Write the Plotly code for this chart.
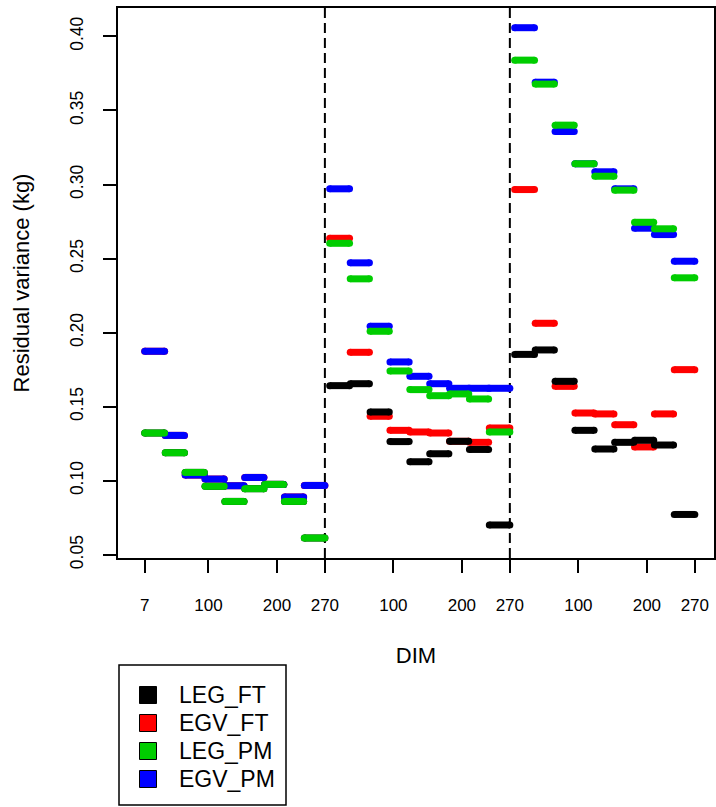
import plotly.graph_objects as go

# ---- data ----
DIM_START = [7, 37, 66, 95, 124, 153, 182, 211, 240]
DIM_END = [36, 65, 94, 123, 152, 181, 210, 239, 270]
PANEL_OFFSET = [0, 270, 540]

TICK_VALS = [7, 100, 200, 270, 370, 470, 540, 640, 740, 810]
TICK_TEXT = ["7", "100", "200", "270", "100", "200", "270", "100", "200", "270"]
Y_TICKS = [0.05, 0.10, 0.15, 0.20, 0.25, 0.30, 0.35, 0.40]

LEG_FT = [0.1322, 0.1189, 0.1056, 0.0962, 0.0860, 0.0946, 0.0975, 0.0860, 0.0613,
          0.1642, 0.1655, 0.1464, 0.1264, 0.1128, 0.1182, 0.1266, 0.1211, 0.0701,
          0.1853, 0.1883, 0.1671, 0.1340, 0.1214, 0.1259, 0.1273, 0.1241, 0.0772]
EGV_FT = [0.1874, 0.1306, 0.1038, 0.1011, 0.0966, 0.1022, 0.0975, 0.0890, 0.0968,
          0.2637, 0.1867, 0.1435, 0.1340, 0.1329, 0.1322, 0.1266, 0.1259, 0.1356,
          0.2966, 0.2063, 0.1637, 0.1457, 0.1451, 0.1378, 0.1228, 0.1451, 0.1750]
LEG_PM = [0.1322, 0.1189, 0.1056, 0.0962, 0.0860, 0.0946, 0.0975, 0.0860, 0.0613,
          0.2603, 0.2363, 0.2009, 0.1741, 0.1615, 0.1574, 0.1586, 0.1552, 0.1329,
          0.3840, 0.3678, 0.3401, 0.3140, 0.3056, 0.2962, 0.2745, 0.2701, 0.2370]
EGV_PM = [0.1874, 0.1306, 0.1038, 0.1011, 0.0966, 0.1022, 0.0975, 0.0890, 0.0968,
          0.2971, 0.2471, 0.2043, 0.1802, 0.1705, 0.1655, 0.1624, 0.1624, 0.1624,
          0.4059, 0.3691, 0.3358, 0.3140, 0.3086, 0.2971, 0.2705, 0.2662, 0.2482]

SERIES = {"LEG_FT": LEG_FT, "EGV_FT": EGV_FT, "LEG_PM": LEG_PM, "EGV_PM": EGV_PM}
COLORS = {"LEG_FT": "#000000", "EGV_FT": "#FF0000", "LEG_PM": "#00CD00", "EGV_PM": "#0000FF"}
DRAW_ORDER = ["EGV_FT", "LEG_FT", "EGV_PM", "LEG_PM"]
LEGEND_ORDER = ["LEG_FT", "EGV_FT", "LEG_PM", "EGV_PM"]

FONT = "Liberation Sans, Arial, Helvetica, sans-serif"
LW = 7

W, H = 716, 807
ML, MR, MT, MB = 118, 2, 8, 249
PW, PH = W - ML - MR, H - MT - MB


def px_x(px):
    return (px - ML) / PW


def px_y(py):
    return (H - MB - py) / PH


fig = go.Figure()

for name in DRAW_ORDER:
    vals = SERIES[name]
    xs, ys = [], []
    k = 0
    for off in PANEL_OFFSET:
        for s, e in zip(DIM_START, DIM_END):
            v = vals[k]
            k += 1
            xs += [off + s, off + e, None]
            ys += [v, v, None]
    fig.add_trace(go.Scatter(
        x=xs, y=ys, mode="lines+markers", name=name, showlegend=False,
        line=dict(color=COLORS[name], width=LW),
        marker=dict(color=COLORS[name], size=LW, line=dict(width=0)),
        hoverinfo="skip",
    ))

# dashed separators between panels
for xv in [270, 540]:
    fig.add_shape(type="line", xref="x", yref="paper", x0=xv, x1=xv, y0=0, y1=1,
                  line=dict(color="black", width=2, dash="10px,5px"), layer="below")

# legend (drawn box with filled squares)
fig.add_shape(type="rect", xref="paper", yref="paper",
              x0=px_x(119), x1=px_x(286), y0=px_y(805), y1=px_y(665),
              line=dict(color="black", width=1.5), fillcolor="rgba(0,0,0,0)")
row_y = [695, 723, 751, 779]
for name, ry in zip(LEGEND_ORDER, row_y):
    fig.add_shape(type="rect", xref="paper", yref="paper",
                  x0=px_x(139.5), x1=px_x(156.5), y0=px_y(ry + 8.5), y1=px_y(ry - 8.5),
                  line=dict(color="black", width=1), fillcolor=COLORS[name])
    fig.add_annotation(xref="paper", yref="paper", x=px_x(177), y=px_y(ry),
                       xanchor="left", yanchor="middle", showarrow=False,
                       text=name, font=dict(size=23, family=FONT, color="black"))

fig.update_layout(
    width=W, height=H,
    margin=dict(l=ML, r=MR, t=MT, b=MB),
    plot_bgcolor="white", paper_bgcolor="white",
    font=dict(family=FONT, color="black"),
    showlegend=False,
    xaxis=dict(range=[-32, 838], tickmode="array", tickvals=TICK_VALS, ticktext=TICK_TEXT,
               ticks="outside", ticklen=13, tickwidth=1.8, tickcolor="black",
               showline=True, linecolor="black", linewidth=1.8, mirror=True,
               showgrid=False, zeroline=False, automargin=False,
               tickfont=dict(size=17, family=FONT), ticklabelstandoff=18,
               title=dict(text="DIM", font=dict(size=22, family=FONT), standoff=33)),
    yaxis=dict(range=[0.0478, 0.4192], tickmode="array", tickvals=Y_TICKS,
               ticktext=[f"{v:.2f}" for v in Y_TICKS], tickangle=-90,
               ticks="outside", ticklen=13, tickwidth=1.8, tickcolor="black",
               showline=True, linecolor="black", linewidth=1.8, mirror=True,
               showgrid=False, zeroline=False, automargin=False,
               tickfont=dict(size=17.5, family=FONT), ticklabelstandoff=13,
               title=dict(text="Residual variance (kg)", font=dict(size=22, family=FONT),
                          standoff=31)),
)

fig.write_html("out.html", config={"displayModeBar": False},
               post_script="document.body.style.margin='0';document.body.style.padding='0';")
